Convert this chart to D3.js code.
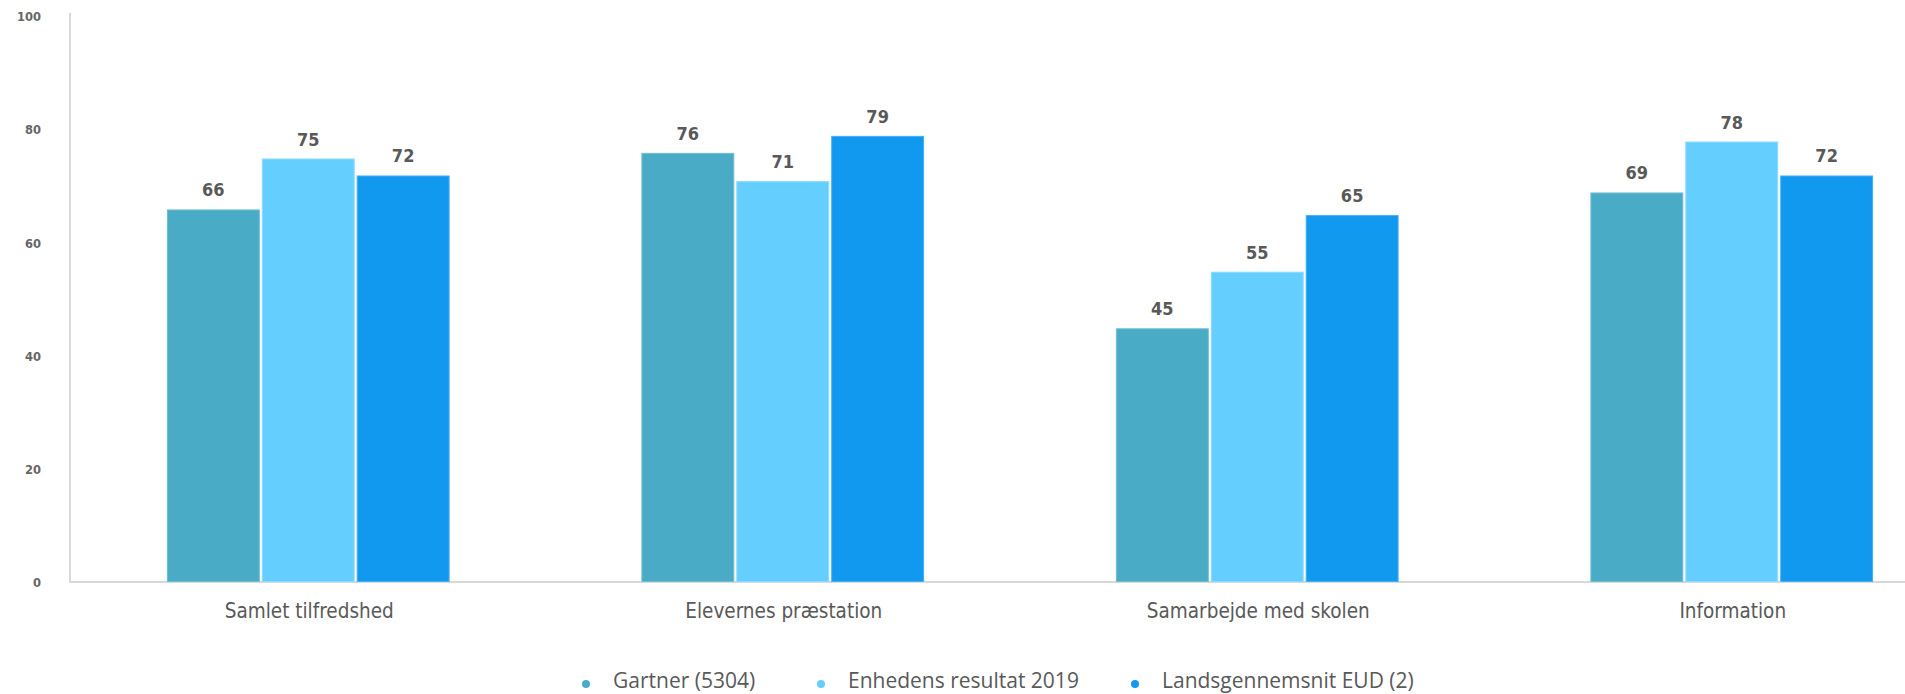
<!DOCTYPE html>
<html>
<head>
<meta charset="utf-8">
<script src="https://cdn.jsdelivr.net/npm/d3@7"></script>
<style>
  html, body { margin: 0; padding: 0; background: #ffffff; overflow: hidden; }
  svg { display: block; }
</style>
</head>
<body>
<svg id="chart" width="1905" height="694"></svg>
<script>
const categories = ["Samlet tilfredshed", "Elevernes præstation", "Samarbejde med skolen", "Information"];
const seriesNames = ["Gartner (5304)", "Enhedens resultat 2019", "Landsgennemsnit EUD (2)"];
const gartner = [66, 76, 45, 69];
const enhedens = [75, 71, 55, 78];
const landsgennemsnit = [72, 79, 65, 72];
const yTicks = [0, 20, 40, 60, 80, 100];
const colors = ["#4aabc6", "#64cfff", "#1198ef"];
const strokes = ["#6fbdd3", "#8adbff", "#45b0f3"];

const seriesValues = [gartner, enhedens, landsgennemsnit];
const rows = categories.map((c, i) => ({
  cat: c,
  vals: seriesValues.map((s, j) => ({ key: seriesNames[j], idx: j, v: s[i] }))
}));

const svg = d3.select("#chart");
const axisColor = "#d9d9d9";
const textColor = "#595959";

const y = d3.scaleLinear().domain([0, 100]).range([583, 17]);
const x0 = d3.scaleBand().domain(categories).range([72, 1970]).paddingInner(0.4).paddingOuter(0.2);
const x1 = d3.scaleBand().domain(seriesNames).range([0, x0.bandwidth()]).padding(0);

// y axis line
svg.append("line")
  .attr("x1", 70).attr("x2", 70)
  .attr("y1", 13).attr("y2", 583)
  .attr("stroke", axisColor).attr("stroke-width", 2);

// x baseline
svg.append("line")
  .attr("x1", 70).attr("x2", 1905)
  .attr("y1", 582).attr("y2", 582)
  .attr("stroke", axisColor).attr("stroke-width", 2);

// y tick labels
const yAxis = d3.axisLeft(y).tickValues(yTicks).tickSize(0).tickPadding(0);
const yg = svg.append("g").attr("transform", "translate(41,0)").call(yAxis);
yg.select(".domain").remove();
yg.selectAll("text")
  .attr("fill", "#666666")
  .style("font-family", "'DejaVu Sans', sans-serif")
  .style("font-size", "11.5px")
  .style("font-weight", "bold");

// bars
const groups = svg.append("g").selectAll("g")
  .data(rows).join("g")
  .attr("transform", d => `translate(${x0(d.cat)},0)`);

groups.selectAll("rect")
  .data(d => d.vals).join("rect")
  .attr("x", d => x1(d.key) + 0.5)
  .attr("y", d => y(d.v) + 0.5)
  .attr("width", x1.bandwidth() - 3)
  .attr("height", d => y(0) - y(d.v) - 2)
  .attr("fill", d => colors[d.idx])
  .attr("stroke", d => strokes[d.idx])
  .attr("stroke-width", 1);

groups.selectAll("text.val")
  .data(d => d.vals).join("text")
  .attr("class", "val")
  .attr("x", d => x1(d.key) + (x1.bandwidth() - 2) / 2)
  .attr("y", d => y(d.v) - 13)
  .attr("text-anchor", "middle")
  .attr("fill", textColor)
  .style("font-family", "'DejaVu Sans Condensed', 'DejaVu Sans', sans-serif")
  .style("font-size", "18px")
  .style("font-weight", "bold")
  .text(d => d.v);

// category labels
const xAxis = d3.axisBottom(x0).tickSize(0).tickPadding(0);
const xg = svg.append("g").attr("transform", "translate(0,603)").call(xAxis);
xg.select(".domain").remove();
xg.selectAll("text")
  .attr("fill", textColor)
  .attr("dy", "0.71em")
  .style("font-family", "'DejaVu Sans Condensed', 'DejaVu Sans', sans-serif")
  .style("font-size", "20.5px");

// legend
const legendX = [586, 821, 1135];
const legend = svg.append("g").selectAll("g")
  .data(seriesNames).join("g")
  .attr("transform", (d, i) => `translate(${legendX[i]},684)`);
legend.append("circle").attr("r", 4).attr("fill", (d, i) => colors[i]);
legend.append("text")
  .attr("x", 27)
  .attr("y", 4)
  .attr("fill", textColor)
  .style("font-family", "'Open Sans', sans-serif")
  .style("font-size", "21px")
  .text(d => d);
</script>
</body>
</html>
